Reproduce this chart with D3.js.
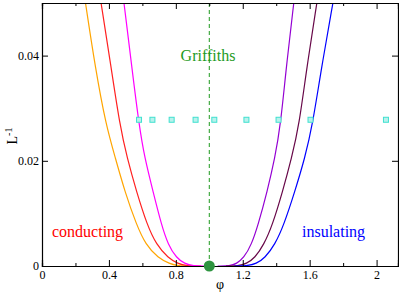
<!DOCTYPE html>
<html>
<head>
<meta charset="utf-8">
<script src="https://d3js.org/d3.v7.min.js"></script>
<style>
  body { margin: 0; background: #fff; }
</style>
</head>
<body>
<div id="chart"></div>
<script>
var curveL = [0.05, 0.0378, 0.0268, 0.0205, 0.01414, 0.00783, 0.00404, 0.00152, 0.00044, 0, 0];
var orangePhi = [0.26, 0.318, 0.382, 0.439, 0.495, 0.565, 0.62, 0.694, 0.764, 0.81, 0.9];
var redPhi = [0.353, 0.413, 0.465, 0.509, 0.565, 0.628, 0.684, 0.754, 0.813, 0.864, 0.95];
var magentaPhi = [0.49, 0.537, 0.58, 0.614, 0.664, 0.714, 0.754, 0.804, 0.853, 0.903, 0.98];
var violetPhi = [1.505, 1.46, 1.426, 1.392, 1.346, 1.292, 1.252, 1.206, 1.163, 1.123, 1.05];
var maroonPhi = [1.643, 1.583, 1.537, 1.492, 1.438, 1.378, 1.326, 1.272, 1.222, 1.172, 1.1];
var bluePhi = [1.739, 1.671, 1.617, 1.571, 1.511, 1.446, 1.392, 1.332, 1.282, 1.222, 1.15];

var curveColors = ["#ffa500", "#ff2020", "#ff00ff", "#9400d3", "#670748", "#0000ff"];

// squares at L = 36
var squarePhi = [0.58, 0.66, 0.775, 0.918, 1.03, 1.222, 1.414, 1.605, 2.056];
var squareL = 0.0278;

var criticalPhi = 1.0;

var xMajorTicks = [0, 0.4, 0.8, 1.2, 1.6, 2];
var xMinorTicks = [0.2, 0.6, 1.0, 1.4, 1.8];
var yTicks = [0, 0.02, 0.04];

var serif = "'Liberation Serif', 'Times New Roman', Times, 'DejaVu Serif', serif";

var w = 399, h = 299;
var margin = {top: 3, right: 1, bottom: 33, left: 42};

var svg = d3.select("#chart").append("svg")
    .attr("width", w)
    .attr("height", h)
    .style("font-family", serif);

var x = d3.scaleLinear()
    .domain([0, 2.128])
    .range([margin.left, w - margin.right]);
var y = d3.scaleLinear()
    .domain([0, 0.05])
    .range([h - margin.bottom, margin.top]);

svg.append("clipPath").attr("id", "clip")
  .append("rect")
    .attr("x", x(0)).attr("y", y(0.05))
    .attr("width", x(2.128) - x(0))
    .attr("height", y(0) - y(0.05));

var plot = svg.append("g").attr("clip-path", "url(#clip)");

var line = d3.line()
    .x(function(d) { return x(d[0]); })
    .y(function(d) { return y(d[1]); })
    .curve(d3.curveBasis);

var curves = [orangePhi, redPhi, magentaPhi, violetPhi, maroonPhi, bluePhi].map(function(phis) {
    return phis.map(function(p, i) { return [p, curveL[i]]; });
});

plot.selectAll("path.curve")
    .data(curves)
    .enter()
    .append("path")
    .attr("class", "curve")
    .attr("fill", "none")
    .attr("stroke-width", 1.2)
    .attr("stroke", function(d, i) { return curveColors[i]; })
    .attr("d", line);

// Griffiths dashed line
plot.append("line")
    .attr("x1", x(criticalPhi)).attr("x2", x(criticalPhi))
    .attr("y1", y(0)).attr("y2", y(0.05))
    .attr("stroke", "#1e9a1e")
    .attr("stroke-width", 1)
    .attr("stroke-dasharray", "4,3");

plot.selectAll("rect.sq")
    .data(squarePhi)
    .enter()
    .append("rect")
    .attr("class", "sq")
    .attr("x", function(d) { return x(d) - 2.5; })
    .attr("y", y(squareL) - 2.5)
    .attr("width", 5)
    .attr("height", 5)
    .attr("fill", "#b8f2ec")
    .attr("stroke", "#40e0d0")
    .attr("stroke-width", 1);

// axes, ticks point inward
var fmt = function(d) { return d === 0 ? "0" : String(d); };

svg.append("g")
    .attr("transform", "translate(0," + y(0) + ")")
    .call(d3.axisBottom(x).tickValues(xMajorTicks).tickSize(-6).tickPadding(4).tickFormat(fmt))
    .call(styleAxis);
svg.append("g")
    .attr("transform", "translate(0," + y(0) + ")")
    .call(d3.axisBottom(x).tickValues(xMinorTicks).tickSize(-3).tickFormat(""))
    .call(styleAxis);
svg.append("g")
    .attr("transform", "translate(0," + y(0.05) + ")")
    .call(d3.axisTop(x).tickValues(xMajorTicks).tickSize(-6).tickFormat(""))
    .call(styleAxis);
svg.append("g")
    .attr("transform", "translate(0," + y(0.05) + ")")
    .call(d3.axisTop(x).tickValues(xMinorTicks).tickSize(-3).tickFormat(""))
    .call(styleAxis);
svg.append("g")
    .attr("transform", "translate(" + x(0) + ",0)")
    .call(d3.axisLeft(y).tickValues(yTicks).tickSize(-6).tickPadding(3).tickFormat(fmt))
    .call(styleAxis);
svg.append("g")
    .attr("transform", "translate(" + x(2.128) + ",0)")
    .call(d3.axisRight(y).tickValues(yTicks).tickSize(-6).tickFormat(""))
    .call(styleAxis);

function styleAxis(g) {
    g.attr("font-family", null).style("font-family", serif).attr("font-size", null);
    g.selectAll("path").attr("stroke", "#000").attr("stroke-width", 1.2);
    g.selectAll("line").attr("stroke", "#000");
    g.selectAll("text")
        .attr("fill", "#000")
        .style("font-size", "12px")
        .style("font-family", serif);
}

// green marker at the critical point
svg.append("circle")
    .attr("cx", x(criticalPhi))
    .attr("cy", y(0))
    .attr("r", 5.5)
    .attr("fill", "#2e9440");

// labels
svg.append("text")
    .attr("x", 220).attr("y", y(0) + 23)
    .attr("text-anchor", "middle")
    .style("font-size", "14px")
    .text("φ");

var yl = svg.append("text")
    .attr("transform", "translate(17,136) rotate(-90)")
    .attr("text-anchor", "middle")
    .style("font-size", "14px");
yl.append("tspan").text("L");
yl.append("tspan").attr("dy", -5).style("font-size", "10px").text("-1");

svg.append("text")
    .attr("x", 208).attr("y", 61)
    .attr("text-anchor", "middle")
    .style("font-size", "16px")
    .attr("fill", "#1e9a1e")
    .text("Griffiths");

svg.append("text")
    .attr("x", 52).attr("y", 237)
    .style("font-size", "16px")
    .attr("fill", "#ff0000")
    .text("conducting");

svg.append("text")
    .attr("x", 302).attr("y", 237)
    .style("font-size", "16px")
    .attr("fill", "#0000ff")
    .text("insulating");
</script>
</body>
</html>
